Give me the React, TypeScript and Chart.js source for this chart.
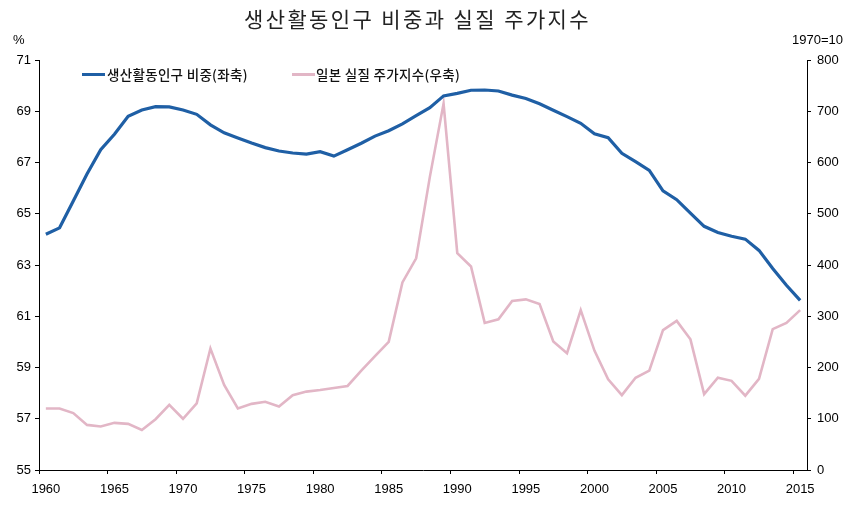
import React, { useEffect, useRef } from "react";
import { Chart, registerables } from "chart.js";

Chart.register(...registerables);

const years = [
  "1960", "1961", "1962", "1963", "1964", "1965", "1966", "1967", "1968", "1969",
  "1970", "1971", "1972", "1973", "1974", "1975", "1976", "1977", "1978", "1979",
  "1980", "1981", "1982", "1983", "1984", "1985", "1986", "1987", "1988", "1989",
  "1990", "1991", "1992", "1993", "1994", "1995", "1996", "1997", "1998", "1999",
  "2000", "2001", "2002", "2003", "2004", "2005", "2006", "2007", "2008", "2009",
  "2010", "2011", "2012", "2013", "2014", "2015",
];

// 생산활동인구 비중 (%), left axis
const workingAgeShare = [
  64.2, 64.45, 65.5, 66.55, 67.5, 68.1, 68.8, 69.05, 69.18, 69.17,
  69.05, 68.88, 68.47, 68.16, 67.96, 67.76, 67.58, 67.45, 67.37, 67.33,
  67.42, 67.25, 67.5, 67.75, 68.03, 68.24, 68.51, 68.83, 69.14, 69.6,
  69.7, 69.82, 69.83, 69.79, 69.63, 69.5, 69.29, 69.04, 68.79, 68.53,
  68.12, 67.97, 67.36, 67.03, 66.69, 65.89, 65.55, 65.02, 64.51, 64.27,
  64.12, 64.01, 63.57, 62.86, 62.21, 61.62,
];

// 일본 실질 주가지수 (1970=100), right axis
const realStockIndex = [
  120, 120, 111, 88, 85, 92, 90, 78, 99, 127,
  100, 130, 237, 166, 120, 129, 133, 124, 146, 153,
  156, 160, 164, 194, 222, 250, 366, 413, 572, 715,
  423, 397, 287, 294, 330, 333, 324, 251, 228, 312,
  233, 177, 146, 180, 194, 273, 291, 255, 148, 180,
  174, 145, 178, 275, 287, 312,
];

const seriesNames = ["생산활동인구 비중(좌축)", "일본 실질 주가지수(우축)"];
const titleText = "생산활동인구 비중과 실질 주가지수";
const leftUnit = "%";
const rightUnit = "1970=10";

const leftMin = 55;
const leftMax = 71;
const leftStep = 2;
const rightMin = 0;
const rightMax = 800;
const rightStep = 100;
const labelEvery = 5;

const BLUE = "#1f5fa5";
const PINK = "#e2b6c6";
const KFONT = "'Noto Sans CJK KR', 'Noto Sans', sans-serif";
const NFONT = "'Liberation Sans', Arial, sans-serif";

export default function App() {
  const canvasRef = useRef<HTMLCanvasElement | null>(null);

  useEffect(() => {
    document.body.style.margin = "0";
    const canvas = canvasRef.current;
    if (!canvas) return;
    const tickFont = { family: NFONT, size: 13 };
    const chart = new Chart(canvas, {
      type: "line",
      data: {
        labels: years,
        datasets: [
          {
            label: seriesNames[1],
            data: realStockIndex,
            yAxisID: "yRight",
            borderColor: PINK,
            backgroundColor: PINK,
            borderWidth: 2.6,
            pointRadius: 0,
            tension: 0,
            order: 2,
          },
          {
            label: seriesNames[0],
            data: workingAgeShare,
            yAxisID: "yLeft",
            borderColor: BLUE,
            backgroundColor: BLUE,
            borderWidth: 3.2,
            pointRadius: 0,
            tension: 0,
            order: 1,
          },
        ],
      },
      options: {
        responsive: false,
        animation: false,
        devicePixelRatio: 1,
        layout: { padding: { top: 60, left: 0, right: 0, bottom: 0 } },
        plugins: {
          legend: { display: false },
          title: { display: false },
          tooltip: { enabled: false },
        },
        scales: {
          x: {
            type: "category",
            offset: true,
            grid: {
              offset: true,
              drawOnChartArea: false,
              drawTicks: true,
              tickLength: 4,
              lineWidth: 1,
              color: (ctx: any) =>
                typeof ctx.index === "number" && ctx.index % labelEvery === 0 ? "#000" : "rgba(0,0,0,0)",
            },
            border: { display: true, color: "#000", width: 1 },
            ticks: {
              autoSkip: false,
              maxRotation: 0,
              minRotation: 0,
              padding: 8,
              color: "#000",
              font: tickFont,
              callback: (_v: any, i: number) => (i % labelEvery === 0 ? years[i] : ""),
            },
            afterFit: (s: any) => {
              s.height = 40;
            },
          },
          yLeft: {
            type: "linear",
            position: "left",
            min: leftMin,
            max: leftMax,
            grid: { drawOnChartArea: false, drawTicks: true, tickLength: 4, color: "#000" },
            border: { display: true, color: "#000", width: 1 },
            ticks: { stepSize: leftStep, padding: 4, color: "#000", font: tickFont },
            afterFit: (s: any) => {
              s.width = 39;
            },
          },
          yRight: {
            type: "linear",
            position: "right",
            min: rightMin,
            max: rightMax,
            grid: { drawOnChartArea: false, drawTicks: true, tickLength: 4, color: "#000" },
            border: { display: true, color: "#000", width: 1 },
            ticks: { stepSize: rightStep, padding: 6, color: "#000", font: tickFont },
            afterFit: (s: any) => {
              s.width = 53;
            },
          },
        },
      },
    } as any);
    return () => chart.destroy();
  }, []);

  const abs = (o: any): React.CSSProperties => ({ position: "absolute", whiteSpace: "nowrap", ...o });

  return (
    <div style={{ position: "absolute", left: 0, top: 0, width: 860, height: 510, background: "#fff", overflow: "hidden" }}>
      <canvas ref={canvasRef} width={860} height={510} style={{ width: 860, height: 510, display: "block" }} />
      <div
        style={abs({
          left: 0,
          top: 3,
          width: 835,
          textAlign: "center",
          fontFamily: KFONT,
          fontSize: 21,
          letterSpacing: "2.4px",
          color: "#222",
          lineHeight: "30px",
        })}
      >
        {titleText}
      </div>
      <div style={abs({ left: 13, top: 32, fontFamily: NFONT, fontSize: 13, color: "#000", lineHeight: "16px" })}>{leftUnit}</div>
      <div style={abs({ left: 792, top: 32, fontFamily: NFONT, fontSize: 13, color: "#000", lineHeight: "16px" })}>{rightUnit}</div>
      <div style={abs({ left: 82, top: 73, width: 23, height: 3, background: BLUE })} />
      <div style={abs({ left: 107, top: 65, fontFamily: KFONT, fontSize: 13.5, fontWeight: 500, letterSpacing: "0.3px", color: "#111", lineHeight: "19px" })}>
        {seriesNames[0]}
      </div>
      <div style={abs({ left: 292, top: 73, width: 23, height: 3, background: PINK })} />
      <div style={abs({ left: 316, top: 65, fontFamily: KFONT, fontSize: 13.5, fontWeight: 500, letterSpacing: "0.3px", color: "#111", lineHeight: "19px" })}>
        {seriesNames[1]}
      </div>
    </div>
  );
}
